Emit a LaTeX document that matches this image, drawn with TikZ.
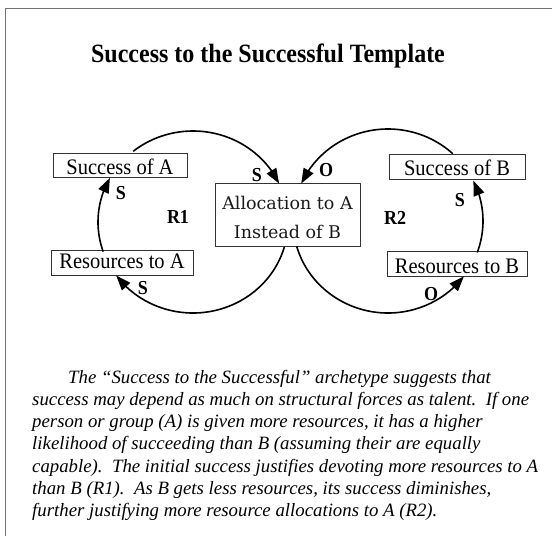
\documentclass[tikz,border=0pt]{standalone}
\usepackage{graphicx}
\usepackage{fontspec}
\setmainfont{Liberation Serif}
\newfontfamily\boxfont{DejaVu Serif}
\usetikzlibrary{arrows.meta,bending}
\begin{document}
\begin{tikzpicture}[x=1pt,y=-1pt,
  frame/.style={draw=black!55,line width=0.8pt},
  varbox/.style={draw=black!80,line width=0.8pt,inner xsep=0pt,inner ysep=0pt,
     font=\fontsize{20.5}{24}\selectfont},
  loopline/.style={line width=1.6pt,-{Triangle[length=15pt,width=11pt]}},
  lbl/.style={font=\bfseries\fontsize{18}{20}\selectfont,inner sep=0pt},
  allocbox/.style={draw=black!80,line width=0.8pt,minimum width=145pt,minimum height=63pt,inner sep=0pt},
  alloctext/.style={font=\boxfont\fontsize{17.5}{29}\selectfont,align=center,text=black!90,inner sep=0pt}
]
\useasboundingbox (0,0) rectangle (552,536);
% frame lines
\coordinate (ftr) at (552,8);
\coordinate (ftl) at (5,8);
\coordinate (fbl) at (5,536);
\draw[frame] (ftr) -- (ftl) -- (fbl);

% title
\node[font=\bfseries\fontsize{24}{28}\selectfont,anchor=base,inner sep=0pt] (title) at (268,62)
  {\scalebox{1}[1.1]{Success to the Successful Template}};

% variable boxes
\node[varbox,minimum width=134pt,text height=21pt,text depth=3pt] (succA) at (120,165)
  {\scalebox{1}[1.08]{Success of A}};
\node[varbox,minimum width=142pt,text height=18pt,text depth=7pt] (resA) at (122,262.5)
  {\scalebox{1}[1.08]{Resources to A}};
\node[varbox,minimum width=136pt,text height=21pt,text depth=4pt] (succB) at (457,166.5)
  {\scalebox{1}[1.08]{Success of B}};
\node[varbox,minimum width=140pt,text height=22pt,text depth=3pt] (resB) at (457,263.5)
  {\scalebox{1}[1.08]{Resources to B}};

\node[allocbox] (alloc) at (287.5,214.5) {};
\node[alloctext] (alloctxt) at ([yshift=-3pt]alloc.center) {Allocation to A\\Instead of B};

% loop centres
\coordinate (cL) at (193,222);
\coordinate (cR) at (388,221);

% R1 loop (clockwise)
\draw[loopline] ([shift={(-129:95 and 91)}]cL) arc[start angle=-129,end angle=-25,x radius=95,y radius=91];
\draw[loopline] ([shift={(16:95 and 91)}]cL) arc[start angle=16,end angle=144,x radius=95,y radius=91];
\draw[loopline] ([shift={(161:95 and 91)}]cL) arc[start angle=161,end angle=209,x radius=95,y radius=91];

% R2 loop (counter-clockwise)
\draw[loopline] ([shift={(-47:95 and 92)}]cR) arc[start angle=-47,end angle=-156,x radius=95,y radius=92];
\draw[loopline] ([shift={(164:95 and 92)}]cR) arc[start angle=164,end angle=37,x radius=95,y radius=92];
\draw[loopline] ([shift={(20:95 and 92)}]cR) arc[start angle=20,end angle=-26,x radius=95,y radius=92];

% polarity and loop labels
\node[lbl] (sA) at (121,193) {\scalebox{1}[1.1]{S}};
\node[lbl] (r1) at (178,217) {\scalebox{1}[1.1]{R1}};
\node[lbl] (sRA) at (143,288) {\scalebox{1}[1.1]{S}};
\node[lbl] (sAl) at (257,175) {\scalebox{1}[1.1]{S}};
\node[lbl] (oAl) at (326,170) {\scalebox{1}[1.1]{O}};
\node[lbl] (r2) at (395,218) {\scalebox{1}[1.1]{R2}};
\node[lbl] (sB) at (460,200) {\scalebox{1}[1.1]{S}};
\node[lbl] (oRB) at (431,294) {\scalebox{1}[1.1]{O}};

% description
\node[anchor=base west,inner sep=0pt] (desc) at (32,383)
 {\parbox[t]{520pt}{\itshape\fontsize{18.8}{22.3}\selectfont\raggedright
 \hspace*{36pt}The “Success to the Successful” archetype suggests that\\
 success may depend as much on structural forces as talent.\ \ If one\\
 person or group (A) is given more resources, it has a higher\\
 likelihood of succeeding than B (assuming their are equally\\
 capable).\ \ The initial success justifies devoting more resources to A\\
 than B (R1).\ \ As B gets less resources, its success diminishes,\\
 further justifying more resource allocations to A (R2).}};
\end{tikzpicture}
\end{document}
